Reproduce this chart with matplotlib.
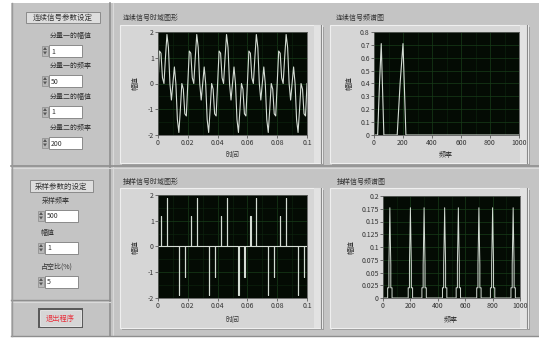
"""LabVIEW-style front panel: continuous signal vs. pulse-sampled signal,
time domain and spectrum, with the parameter controls on the left."""

import matplotlib.pyplot as plt
import numpy as np
from matplotlib.patches import Polygon, Rectangle

plt.rcParams["font.family"] = ["Noto Sans CJK SC", "DejaVu Sans"]

W, H = 539, 338

# ---- data --------------------------------------------------------------
# continuous signal, 1 kHz samples over 0..0.1 s
cont_t = np.linspace(0.0, 0.1, 101)
cont_y = [
    0.000, 1.260, 1.176, 0.221, 0.000, 1.000, 1.902, 1.397, 0.000, -0.642,
    0.000, 0.642, 0.000, -1.397, -1.902, -1.000, 0.000, -0.221, -1.176, -1.260,
    0.000, 1.260, 1.176, 0.221, 0.000, 1.000, 1.902, 1.397, 0.000, -0.642,
    0.000, 0.642, 0.000, -1.397, -1.902, -1.000, 0.000, -0.221, -1.176, -1.260,
    0.000, 1.260, 1.176, 0.221, 0.000, 1.000, 1.902, 1.397, 0.000, -0.642,
    0.000, 0.642, 0.000, -1.397, -1.902, -1.000, 0.000, -0.221, -1.176, -1.260,
    0.000, 1.260, 1.176, 0.221, 0.000, 1.000, 1.902, 1.397, 0.000, -0.642,
    0.000, 0.642, 0.000, -1.397, -1.902, -1.000, 0.000, -0.221, -1.176, -1.260,
    0.000, 1.260, 1.176, 0.221, 0.000, 1.000, 1.902, 1.397, 0.000, -0.642,
    0.000, 0.642, 0.000, -1.397, -1.902, -1.000, 0.000, -0.221, -1.176, -1.260,
    0.000,
]

# continuous spectrum
cont_f = [0, 25, 38, 50, 68, 160, 180, 200, 220, 1000]
cont_a = [0, 0, 0.40, 0.71, 0, 0, 0.40, 0.71, 0, 0]

# sampled signal: pulse every 2 ms (500 Hz), 5 % duty
pulse_t = np.linspace(0.0, 0.1, 51)
pulse_y = [
    0, 1.176, 0, 1.902, 0, 0, 0, -1.902, 0, -1.176,
    0, 1.176, 0, 1.902, 0, 0, 0, -1.902, 0, -1.176,
    0, 1.176, 0, 1.902, 0, 0, 0, -1.902, 0, -1.176,
    0, 1.176, 0, 1.902, 0, 0, 0, -1.902, 0, -1.176,
    0, 1.176, 0, 1.902, 0, 0, 0, -1.902, 0, -1.176,
    0,
]
PULSE_W = 0.0001

# sampled spectrum (stepped peaks)
samp_f = [
    0,
    34, 34, 43, 43, 46, 50, 54, 57, 57, 66, 66,
    184, 184, 193, 193, 196, 200, 204, 207, 207, 216, 216,
    284, 284, 293, 293, 296, 300, 304, 307, 307, 316, 316,
    434, 434, 443, 443, 446, 450, 454, 457, 457, 466, 466,
    534, 534, 543, 543, 546, 550, 554, 557, 557, 566, 566,
    684, 684, 693, 693, 696, 700, 704, 707, 707, 716, 716,
    784, 784, 793, 793, 796, 800, 804, 807, 807, 816, 816,
    934, 934, 943, 943, 946, 950, 954, 957, 957, 966, 966,
    1000,
]
samp_a = [
    0,
    0, 0.02, 0.02, 0.065, 0.11, 0.177, 0.11, 0.065, 0.02, 0.02, 0,
    0, 0.02, 0.02, 0.065, 0.11, 0.177, 0.11, 0.065, 0.02, 0.02, 0,
    0, 0.02, 0.02, 0.065, 0.11, 0.177, 0.11, 0.065, 0.02, 0.02, 0,
    0, 0.02, 0.02, 0.065, 0.11, 0.177, 0.11, 0.065, 0.02, 0.02, 0,
    0, 0.02, 0.02, 0.065, 0.11, 0.177, 0.11, 0.065, 0.02, 0.02, 0,
    0, 0.02, 0.02, 0.065, 0.11, 0.177, 0.11, 0.065, 0.02, 0.02, 0,
    0, 0.02, 0.02, 0.065, 0.11, 0.177, 0.11, 0.065, 0.02, 0.02, 0,
    0, 0.02, 0.02, 0.065, 0.11, 0.177, 0.11, 0.065, 0.02, 0.02, 0,
    0,
]

cont_controls = [("分量一的幅值", "1"), ("分量一的频率", "50"),
                 ("分量二的幅值", "1"), ("分量二的频率", "200")]
samp_controls = [("采样频率", "500"), ("幅值", "1"), ("占空比(%)", "5")]

# ---- colours --------------------------------------------------------------
PANEL = "#c4c4c4"
FRAME = "#d6d6d6"
PLOT_BG = "#040b04"
GRID = "#173c19"
GRID_MINOR = "#0e260f"
TRACE = "#d4dcd4"
TXT = "#333333"


def fig_rect(x0, y0, x1, y1):
    return [x0 / W, 1 - y1 / H, (x1 - x0) / W, (y1 - y0) / H]


fig = plt.figure(figsize=(W / 100, H / 100), dpi=100)
fig.patch.set_facecolor("white")

bg = fig.add_axes([0, 0, 1, 1])
bg.set_xlim(0, W)
bg.set_ylim(H, 0)
bg.axis("off")

# panel background + section lines
bg.add_patch(Rectangle((11, 3), W - 11, 333, fc=PANEL, ec="none"))
bg.plot([110, 110], [3, 336], color="#8e8e8e", lw=1.2)
bg.plot([113, 113], [3, 336], color="#dadada", lw=0.8)
bg.plot([11, W], [165.5, 165.5], color="#8e8e8e", lw=1.2)
bg.plot([11, W], [168, 168], color="#dadada", lw=0.8)
bg.plot([11, 110], [300, 300], color="#8e8e8e", lw=1.0)
bg.plot([11, 110], [302, 302], color="#dadada", lw=0.8)
bg.plot([11, W], [335.5, 335.5], color="#8e8e8e", lw=1.0)
bg.plot([11.5, 11.5], [3, 336], color="#9a9a9a", lw=1.0)


def section_title(x0, y0, x1, y1, text):
    bg.add_patch(Rectangle((x0, y0), x1 - x0, y1 - y0, fc="#dedede",
                           ec="#8a8a8a", lw=0.7))
    bg.text((x0 + x1) / 2, (y0 + y1) / 2 + 0.5, text, fontsize=5.4,
            color=TXT, ha="center", va="center")


def numeric(x0, y0, label, value, label_x):
    bg.text(label_x, y0 - 9, label, fontsize=5.0, color=TXT,
            ha="center", va="center")
    # increment / decrement arrows
    bg.add_patch(Rectangle((x0 - 7, y0 + 0.5), 6, 10.5, fc="#b9b9b9",
                           ec="#8a8a8a", lw=0.5))
    bg.add_patch(Polygon([[x0 - 6, y0 + 5], [x0 - 2, y0 + 5], [x0 - 4, y0 + 2]],
                         fc="#555555", ec="none"))
    bg.add_patch(Polygon([[x0 - 6, y0 + 6.5], [x0 - 2, y0 + 6.5], [x0 - 4, y0 + 9.5]],
                         fc="#555555", ec="none"))
    bg.add_patch(Rectangle((x0, y0), 33, 12, fc="white", ec="#8a8a8a", lw=0.7))
    bg.text(x0 + 2, y0 + 6.5, value, fontsize=5.0, color=TXT,
            ha="left", va="center")


section_title(26, 12, 100, 23, "连续信号参数设定")
for (lab, val), y0 in zip(cont_controls, [45, 75, 106, 137]):
    numeric(49, y0, lab, val, 71)

section_title(30, 180, 93, 192, "采样参数的设定")
for (lab, val), y0, lx in zip(samp_controls, [210, 242, 276], [56, 48, 57]):
    numeric(45, y0, lab, val, lx)

# stop button
bg.add_patch(Rectangle((38, 308), 45, 20, fc="#5a5a5a", ec="none"))
bg.add_patch(Rectangle((40, 310), 41, 16, fc="#d6d6d6", ec="#f0f0f0", lw=0.6))
bg.text(60.5, 318.5, "退出程序", fontsize=5.2, color="#e8303c",
        ha="center", va="center")

# graph frames + titles
frames = [
    ((120, 25, 322, 163), (123, 18), "连续信号时域图形"),
    ((330, 25, 528, 163), (336, 18), "连续信号频谱图"),
    ((120, 188, 322, 328), (123, 182), "抽样信号时域图形"),
    ((330, 188, 528, 328), (337, 182), "抽样信号频谱图"),
]
for (x0, y0, x1, y1), (tx, ty), title in frames:
    bg.add_patch(Rectangle((x0 + 2, y0 + 2), x1 - x0, y1 - y0, fc="#9c9c9c",
                           ec="none"))
    bg.add_patch(Rectangle((x0, y0), x1 - x0, y1 - y0, fc=FRAME,
                           ec="#efefef", lw=0.8))
    bg.add_patch(Rectangle((x1 - 8, y0), 8, y1 - y0, fc="#e2e2e2", ec="none"))
    bg.plot([x1 - 1, x1 - 1], [y0, y1], color="#8a8a8a", lw=0.8)
    bg.text(tx, ty, title, fontsize=5.0, color=TXT, ha="left", va="center")


def graph(px, xlim, ylim, xticks, xlabels, yticks, ylabels, xminor, yminor):
    ax = fig.add_axes(fig_rect(*px))
    ax.set_facecolor(PLOT_BG)
    ax.set_xlim(*xlim)
    ax.set_ylim(*ylim)
    ax.set_xticks(xticks)
    ax.set_xticklabels(xlabels)
    ax.set_yticks(yticks)
    ax.set_yticklabels(ylabels)
    ax.set_xticks(xminor, minor=True)
    ax.set_yticks(yminor, minor=True)
    ax.grid(True, which="major", color=GRID, lw=0.5)
    ax.grid(True, which="minor", color=GRID_MINOR, lw=0.4)
    ax.tick_params(which="major", direction="out", length=2, width=0.5,
                   color="#444444", labelsize=5.0, labelcolor=TXT, pad=1)
    ax.tick_params(which="minor", length=0)
    for s in ax.spines.values():
        s.set_color("#5c5c5c")
        s.set_linewidth(0.6)
    ax.set_axisbelow(True)
    return ax


t_ticks = [0, 0.02, 0.04, 0.06, 0.08, 0.1]
t_labels = ["0", "0.02", "0.04", "0.06", "0.08", "0.1"]
f_ticks = [0, 200, 400, 600, 800, 1000]
f_labels = ["0", "200", "400", "600", "800", "1000"]

ax1 = graph((158, 32, 307, 135), (0, 0.1), (-2, 2), t_ticks, t_labels,
            [-2, -1, 0, 1, 2], ["-2", "-1", "0", "1", "2"],
            np.arange(0.01, 0.1, 0.02), np.arange(-1.5, 2, 1.0))
ax1.plot(cont_t, cont_y, color=TRACE, lw=0.8)

ax2 = graph((374, 32, 519, 135), (0, 1000), (0, 0.8), f_ticks, f_labels,
            [0, 0.1, 0.2, 0.3, 0.4, 0.5, 0.6, 0.7, 0.8],
            ["0", "0.1", "0.2", "0.3", "0.4", "0.5", "0.6", "0.7", "0.8"],
            np.arange(100, 1000, 200), [])
ax2.plot(cont_f, cont_a, color=TRACE, lw=0.8)

ax3 = graph((158, 195, 307, 298), (0, 0.1), (-2, 2), t_ticks, t_labels,
            [-2, -1, 0, 1, 2], ["-2", "-1", "0", "1", "2"],
            np.arange(0.01, 0.1, 0.02), np.arange(-1.5, 2, 1.0))
px, py = [], []
for t0, v in zip(pulse_t, pulse_y):
    px += [t0, t0, t0 + PULSE_W, t0 + PULSE_W]
    py += [0, v, v, 0]
ax3.plot(px, py, color=TRACE, lw=0.8)

ax4 = graph((383, 196, 520, 298), (0, 1000), (0, 0.2), f_ticks, f_labels,
            [0, 0.025, 0.05, 0.075, 0.1, 0.125, 0.15, 0.175, 0.2],
            ["0", "0.025", "0.05", "0.075", "0.1", "0.125", "0.15", "0.175", "0.2"],
            np.arange(100, 1000, 200), [])
ax4.plot(samp_f, samp_a, color=TRACE, lw=0.7)

# axis names
bg.text(136, 83, "幅值", fontsize=5.0, color=TXT, rotation=90,
        ha="center", va="center")
bg.text(232, 155, "时间", fontsize=5.0, color=TXT, ha="center", va="center")
bg.text(350, 83, "幅值", fontsize=5.0, color=TXT, rotation=90,
        ha="center", va="center")
bg.text(446, 155, "频率", fontsize=5.0, color=TXT, ha="center", va="center")
bg.text(136, 247, "幅值", fontsize=5.0, color=TXT, rotation=90,
        ha="center", va="center")
bg.text(232, 320, "时间", fontsize=5.0, color=TXT, ha="center", va="center")
bg.text(352, 247, "幅值", fontsize=5.0, color=TXT, rotation=90,
        ha="center", va="center")
bg.text(451, 320, "频率", fontsize=5.0, color=TXT, ha="center", va="center")

fig.savefig("out.png", dpi=100, facecolor=fig.get_facecolor())
